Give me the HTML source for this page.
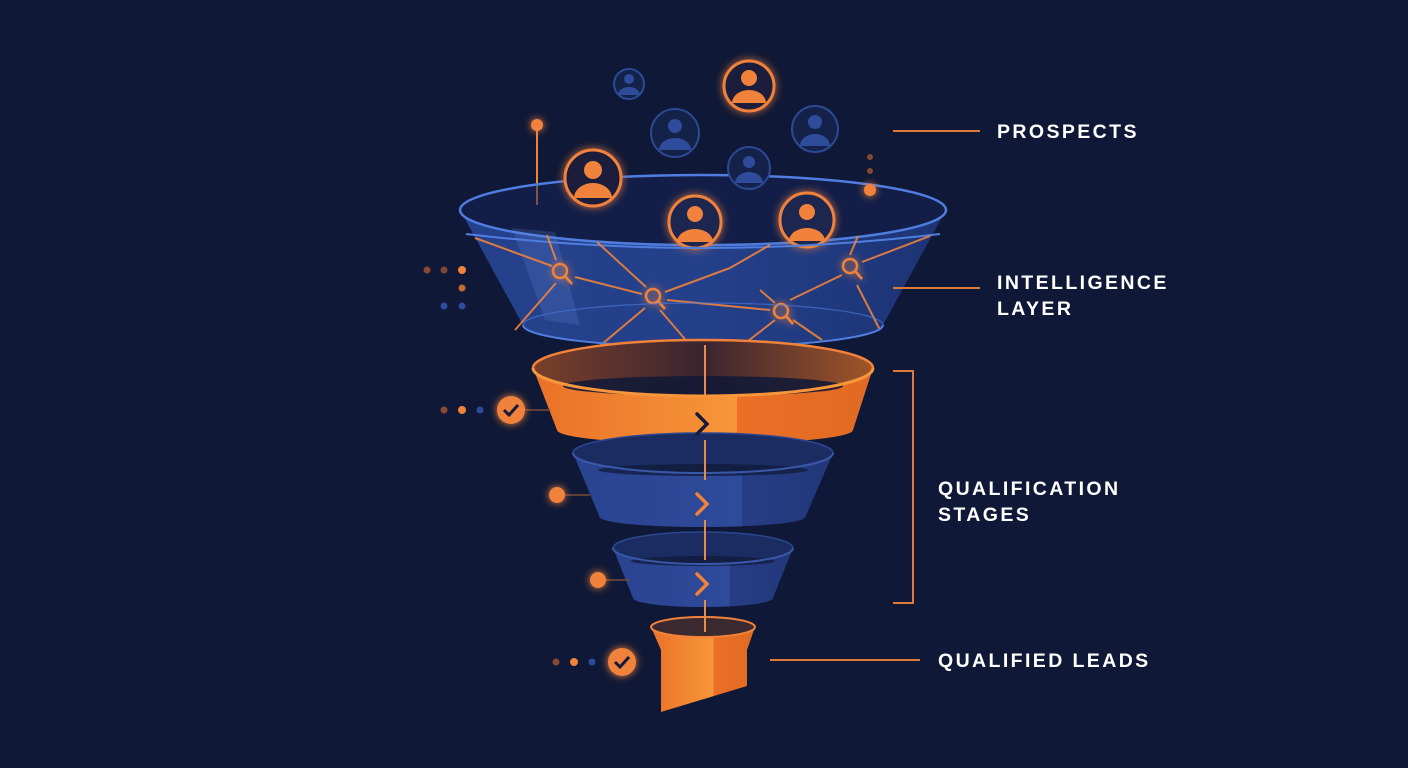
<!DOCTYPE html>
<html><head><meta charset="utf-8"><style>
html,body{margin:0;padding:0;background:#0f1836;}
svg{display:block}
text{font-family:"Liberation Sans",sans-serif;font-weight:bold;fill:#fff;font-size:19.5px;letter-spacing:2.4px}
</style></head><body>
<svg width="1408" height="768" viewBox="0 0 1408 768">
<defs>
<filter id="g" x="-50%" y="-50%" width="200%" height="200%"><feGaussianBlur stdDeviation="4" result="b"/><feMerge><feMergeNode in="b"/><feMergeNode in="SourceGraphic"/></feMerge></filter>
<linearGradient id="or" x1="0" x2="1"><stop offset="0" stop-color="#ea7128"/><stop offset="0.6" stop-color="#f7963a"/><stop offset="0.6" stop-color="#ec6f25"/><stop offset="1" stop-color="#e06a24"/></linearGradient>
<linearGradient id="bl" x1="0" x2="1"><stop offset="0" stop-color="#2a4391"/><stop offset="0.65" stop-color="#2f4a9a"/><stop offset="0.65" stop-color="#263d85"/><stop offset="1" stop-color="#22377a"/></linearGradient>
<linearGradient id="gl" x1="0" x2="1"><stop offset="0" stop-color="#2d4fa8" stop-opacity="0.75"/><stop offset="0.5" stop-color="#2a4aa0" stop-opacity="0.8"/><stop offset="1" stop-color="#22408f" stop-opacity="0.7"/></linearGradient>
<linearGradient id="inner" x1="0" x2="1"><stop offset="0" stop-color="#7a3f2a"/><stop offset="0.5" stop-color="#3a2430"/><stop offset="1" stop-color="#a05528"/></linearGradient>
</defs>
<rect width="1408" height="768" fill="#0f1836"/>

<g>
 <circle cx="629" cy="84" r="15" fill="#14224a" stroke="#2c4a94" stroke-width="2"/><circle cx="629" cy="79" r="5" fill="#2e4c9a"/><path d="M618 95 a11 8 0 0 1 22 0z" fill="#2e4c9a"/>
 <circle cx="675" cy="133" r="24" fill="#14224a" stroke="#2c4a94" stroke-width="2"/><circle cx="675" cy="126" r="7" fill="#2e4c9a"/><path d="M659 150 a16 12 0 0 1 32 0z" fill="#2e4c9a"/>
 <circle cx="815" cy="129" r="23" fill="#14224a" stroke="#2c4a94" stroke-width="2"/><circle cx="815" cy="122" r="7" fill="#2e4c9a"/><path d="M800 146 a15 12 0 0 1 30 0z" fill="#2e4c9a"/>
 <g filter="url(#g)">
 <circle cx="749" cy="86" r="25" fill="#1a1f3c" stroke="#f0823a" stroke-width="3"/><circle cx="749" cy="78" r="8" fill="#f0823a"/><path d="M732 103 a17 13 0 0 1 34 0z" fill="#f0823a"/>
 <circle cx="537" cy="125" r="6" fill="#f0823a"/>
 </g>
 <line x1="537" y1="130" x2="537" y2="205" stroke="#f0823a" stroke-width="2"/>
 <circle cx="870" cy="157" r="3" fill="#8a4a30"/><circle cx="870" cy="171" r="3" fill="#8a4a30"/>
</g>

<!-- glass funnel -->
<path d="M460 210 L523 325 A180 22 0 0 0 883 325 L946 210 A243 35 0 0 1 460 210Z" fill="url(#gl)"/>
<ellipse cx="703" cy="210" rx="243" ry="35" fill="#16245a" fill-opacity="0.5" stroke="#4f7de0" stroke-width="2.5"/>
<polygon points="512,228 555,232 580,325 545,320" fill="#6a8ee0" fill-opacity="0.2"/>
<g>
 <circle cx="749" cy="168" r="21" fill="#14224a" stroke="#2c4a94" stroke-width="2"/><circle cx="749" cy="162" r="6" fill="#2e4c9a"/><path d="M735 183 a14 11 0 0 1 28 0z" fill="#2e4c9a"/>
</g>
<g filter="url(#g)">
 <circle cx="593" cy="178" r="28" fill="#1a1f3c" stroke="#f0823a" stroke-width="3"/><circle cx="593" cy="170" r="9" fill="#f0823a"/><path d="M574 198 a19 15 0 0 1 38 0z" fill="#f0823a"/>
 <circle cx="870" cy="190" r="6" fill="#f0823a"/>
 <circle cx="695" cy="222" r="26" fill="#1a2550" stroke="#f0823a" stroke-width="3"/><circle cx="695" cy="214" r="8" fill="#f0823a"/><path d="M677 242 a18 13 0 0 1 36 0z" fill="#f0823a"/>
 <circle cx="807" cy="220" r="27" fill="#1a2550" stroke="#f0823a" stroke-width="3"/><circle cx="807" cy="212" r="8" fill="#f0823a"/><path d="M789 241 a18 13 0 0 1 36 0z" fill="#f0823a"/>
</g>
<path d="M466 234 Q703 262 940 234" stroke="#4f7de0" stroke-width="2" fill="none"/>
<g stroke="#f0823a" stroke-width="2" fill="none" opacity="0.9">
 <line x1="475" y1="238" x2="552" y2="266"/><line x1="547" y1="235" x2="556" y2="260"/><line x1="575" y1="277" x2="642" y2="294"/>
 <line x1="597" y1="242" x2="646" y2="287"/><line x1="665" y1="292" x2="730" y2="268"/><line x1="730" y1="268" x2="770" y2="245"/>
 <line x1="667" y1="300" x2="770" y2="310"/><line x1="556" y1="283" x2="515" y2="330"/><line x1="645" y1="308" x2="595" y2="350"/>
 <line x1="660" y1="310" x2="690" y2="345"/><line x1="790" y1="300" x2="842" y2="275"/><line x1="862" y1="262" x2="930" y2="236"/>
 <line x1="850" y1="255" x2="858" y2="236"/><line x1="857" y1="285" x2="880" y2="330"/><line x1="775" y1="320" x2="730" y2="355"/>
 <line x1="793" y1="320" x2="822" y2="340"/><line x1="760" y1="290" x2="775" y2="303"/>
</g>
<g stroke="#f0823a" stroke-width="2.5" fill="none" filter="url(#g)">
 <circle cx="560" cy="271" r="7"/><line x1="565" y1="276" x2="572" y2="284"/>
 <circle cx="653" cy="296" r="7"/><line x1="658" y1="301" x2="665" y2="309"/>
 <circle cx="781" cy="311" r="7"/><line x1="786" y1="316" x2="793" y2="324"/>
 <circle cx="850" cy="266" r="7"/><line x1="855" y1="271" x2="862" y2="279"/>
</g>
<path d="M523 325 A180 22 0 0 0 883 325" stroke="#4f7de0" stroke-width="2" fill="none"/>
<path d="M523 325 A180 22 0 0 1 883 325" stroke="#4f7de0" stroke-width="1.2" fill="none" opacity="0.6"/>

<path d="M533 368 L557 430 A148 14 0 0 0 853 430 L873 368 A170 28 0 0 1 533 368Z" fill="url(#or)"/>
<ellipse cx="703" cy="368" rx="170" ry="28" fill="url(#inner)" stroke="#f0823a" stroke-width="2.5"/>
<ellipse cx="703" cy="386" rx="140" ry="10" fill="#141a36" opacity="0.9"/>
<path d="M533 368 A170 28 0 0 0 873 368" stroke="#f7963a" stroke-width="3" fill="none"/>
<path d="M573 453 L600 518 A103 10 0 0 0 805 518 L833 453 A130 20 0 0 1 573 453Z" fill="url(#bl)"/>
<ellipse cx="703" cy="453" rx="130" ry="20" fill="#1b2c63" stroke="#2c4690" stroke-width="1.5"/>
<ellipse cx="703" cy="470" rx="105" ry="6" fill="#0f1836" opacity="0.7"/>
<path d="M573 453 A130 20 0 0 0 833 453" stroke="#3a58aa" stroke-width="2" fill="none"/>
<path d="M613 548 L633 598 A70 9 0 0 0 773 598 L793 548 A90 16 0 0 1 613 548Z" fill="url(#bl)"/>
<ellipse cx="703" cy="548" rx="90" ry="16" fill="#1b2c63" stroke="#2c4690" stroke-width="1.5"/>
<ellipse cx="703" cy="561" rx="72" ry="5" fill="#0f1836" opacity="0.7"/>
<path d="M613 548 A90 16 0 0 0 793 548" stroke="#3a58aa" stroke-width="2" fill="none"/>
<path d="M651 627 L661 650 L661 712 L747 686 L747 650 L755 627 Z" fill="url(#or)"/>
<ellipse cx="703" cy="627" rx="52" ry="10" fill="#3a2a30" stroke="#f0823a" stroke-width="2"/>
<g stroke="#e88a4a" stroke-width="2">
 <line x1="705" y1="345" x2="705" y2="395"/><line x1="705" y1="440" x2="705" y2="480"/><line x1="705" y1="520" x2="705" y2="560"/><line x1="705" y1="600" x2="705" y2="632"/>
</g>
<path d="M697 414 L707 424 L697 434" stroke="#15193a" stroke-width="3.5" fill="none" stroke-linecap="round"/>
<path d="M697 494 L707 504 L697 514" stroke="#f0823a" stroke-width="3.5" fill="none" stroke-linecap="round"/>
<path d="M697 574 L707 584 L697 594" stroke="#f0823a" stroke-width="3.5" fill="none" stroke-linecap="round"/>

<circle cx="427" cy="270" r="3.5" fill="#8a4a30"/><circle cx="444" cy="270" r="3.5" fill="#7a4a38"/><circle cx="462" cy="270" r="4" fill="#f0823a"/>
<circle cx="462" cy="288" r="3.5" fill="#c06a35"/><circle cx="444" cy="306" r="3.5" fill="#2e4c9a"/><circle cx="462" cy="306" r="3.5" fill="#2e4c9a"/>
<circle cx="444" cy="410" r="3.5" fill="#8a4a30"/><circle cx="462" cy="410" r="4" fill="#f0823a"/><circle cx="480" cy="410" r="3.5" fill="#2e4c9a"/>
<line x1="525" y1="410" x2="550" y2="410" stroke="#7a4a38" stroke-width="1.5"/>
<line x1="565" y1="495" x2="590" y2="495" stroke="#7a4a38" stroke-width="1.5"/>
<line x1="605" y1="580" x2="630" y2="580" stroke="#7a4a38" stroke-width="1.5"/>
<circle cx="556" cy="662" r="3.5" fill="#8a4a30"/><circle cx="574" cy="662" r="4" fill="#f0823a"/><circle cx="592" cy="662" r="3.5" fill="#2e4c9a"/>
<g filter="url(#g)">
 <circle cx="511" cy="410" r="14" fill="#f0823a"/><circle cx="557" cy="495" r="8" fill="#f0823a"/><circle cx="598" cy="580" r="8" fill="#f0823a"/><circle cx="622" cy="662" r="14" fill="#f0823a"/>
</g>
<path d="M504 410 L509 415 L518 405" stroke="#15193a" stroke-width="3" fill="none"/>
<path d="M615 662 L620 667 L629 657" stroke="#15193a" stroke-width="3" fill="none"/>

<g stroke="#e07a3a" stroke-width="2" fill="none">
 <line x1="893" y1="131" x2="980" y2="131"/>
 <line x1="893" y1="288" x2="980" y2="288"/>
 <polyline points="893,371 913,371 913,603 893,603"/>
 <line x1="770" y1="660" x2="920" y2="660"/>
</g>
<text x="997" y="138">PROSPECTS</text>
<text x="997" y="289">INTELLIGENCE</text>
<text x="997" y="315">LAYER</text>
<text x="938" y="495">QUALIFICATION</text>
<text x="938" y="521">STAGES</text>
<text x="938" y="667">QUALIFIED LEADS</text>
</svg>
</body></html>
